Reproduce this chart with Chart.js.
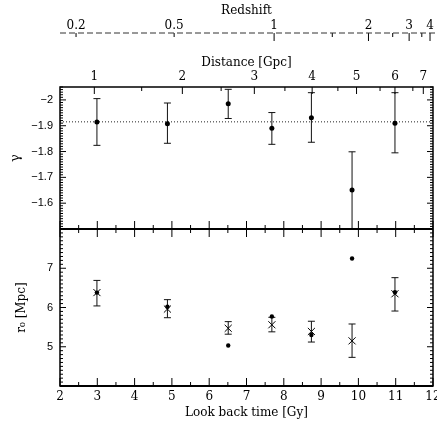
<!DOCTYPE html>
<html><head><meta charset="utf-8">
<script src="https://cdn.jsdelivr.net/npm/chart.js@4/dist/chart.umd.min.js"></script>
<style>html,body{margin:0;padding:0;background:#fff}canvas{display:block}</style>
</head><body>
<canvas id="c" width="437" height="423"></canvas>
<script>
// ---- data ----
const lookback   = [2.99, 4.88, 6.51, 7.68, 8.74, 9.83, 10.98];        // Gy
const gamma      = [-1.914, -1.908, -1.985, -1.890, -1.931, -1.651, -1.910];
const gammaLo    = [-2.005, -1.988, -2.041, -1.951, -2.028, -1.799, -2.028];
const gammaHi    = [-1.824, -1.832, -1.928, -1.828, -1.836, -1.500, -1.795];
const gammaMean  = -1.915;
const r0Cross    = [6.38, 5.96, 5.47, 5.56, 5.39, 5.15, 6.35];          // Mpc
const r0Lo       = [6.04, 5.74, 5.32, 5.38, 5.12, 4.73, 5.91];
const r0Hi       = [6.69, 6.20, 5.64, 5.75, 5.65, 5.58, 6.76];
const r0Dot      = [6.38, 6.02, 5.03, 5.77, 5.30, 7.25, 6.39];

const gammaTicks       = [-2, -1.9, -1.8, -1.7, -1.6];
const gammaTickLabels  = ['\u22122', '\u22121.9', '\u22121.8', '\u22121.7', '\u22121.6'];
const r0Ticks          = [5, 6, 7];
const r0TickLabels     = ['5', '6', '7'];
const timeTicks        = [2, 3, 4, 5, 6, 7, 8, 9, 10, 11, 12];

// distance axis: label and look-back time where the tick sits
const distLabels  = ['1', '2', '3', '4', '5', '6', '7'];
const distT       = [2.92, 5.28, 7.21, 8.76, 9.95, 10.98, 11.74];
const distMinorT  = [4.19, 6.32, 8.03, 9.45, 10.58, 11.46];
// redshift axis
const zLabels     = ['0.2', '0.5', '1', '2', '3', '4'];
const zValues     = [0.2, 0.5, 1, 2, 3, 4];
const zT          = [2.43, 5.06, 7.74, 10.27, 11.36, 11.92];
const zMinorT     = [9.30, 10.92, 11.70];

// ---- styling ----
const SERIF = "'DejaVu Serif', serif";
const SANS  = "'Liberation Sans', Arial, sans-serif";

const errorBars = {
  id: 'errorBars',
  beforeDatasetsDraw(chart) {
    const {ctx, chartArea: a, scales} = chart;
    const xs = scales.x;
    ctx.save();
    ctx.beginPath(); ctx.rect(a.left, a.top, a.right - a.left, a.bottom - a.top); ctx.clip();
    ctx.strokeStyle = '#111'; ctx.lineWidth = 1;
    const bars = (ys, lo, hi) => {
      for (let i = 0; i < lookback.length; i++) {
        const x = xs.getPixelForValue(lookback[i]);
        const y1 = ys.getPixelForValue(lo[i]), y2 = ys.getPixelForValue(hi[i]);
        ctx.beginPath();
        ctx.moveTo(x, y1); ctx.lineTo(x, y2);
        ctx.moveTo(x - 3.5, y1); ctx.lineTo(x + 3.5, y1);
        ctx.moveTo(x - 3.5, y2); ctx.lineTo(x + 3.5, y2);
        ctx.stroke();
      }
    };
    bars(scales.yG, gammaLo, gammaHi);
    bars(scales.yR, r0Lo, r0Hi);
    ctx.restore();
  }
};

const frame = {
  id: 'frame',
  afterDraw(chart) {
    const {ctx, chartArea: a, scales} = chart;
    const {x, yG, yR, xz} = scales;
    const yDiv = yG.getPixelForValue(-1.5);
    ctx.save();
    ctx.strokeStyle = '#000';
    ctx.lineWidth = 1;
    ctx.beginPath();
    for (let k = -205; k <= -150; k++) {
      const y = yG.getPixelForValue(k / 100);
      const L = (k % 10 === 0) ? 6 : 3;
      ctx.moveTo(a.left, y); ctx.lineTo(a.left + L, y);
      ctx.moveTo(a.right, y); ctx.lineTo(a.right - L, y);
    }
    for (let k = 40; k <= 80; k++) {
      const y = yR.getPixelForValue(k / 10);
      const L = (k % 10 === 0) ? 6 : 3;
      ctx.moveTo(a.left, y); ctx.lineTo(a.left + L, y);
      ctx.moveTo(a.right, y); ctx.lineTo(a.right - L, y);
    }
    for (let k = 4; k <= 24; k++) {
      const px = x.getPixelForValue(k / 2);
      const L = (k % 2 === 0) ? 8 : 4;
      ctx.moveTo(px, a.bottom); ctx.lineTo(px, a.bottom - L);
      ctx.moveTo(px, yDiv - L); ctx.lineTo(px, yDiv + L);
    }
    distT.forEach(t => { const px = x.getPixelForValue(t); ctx.moveTo(px, a.top); ctx.lineTo(px, a.top + 7); });
    distMinorT.forEach(t => { const px = x.getPixelForValue(t); ctx.moveTo(px, a.top); ctx.lineTo(px, a.top + 4); });
    const zy = xz.bottom;
    zT.forEach((t, i) => { const px = x.getPixelForValue(t); const L = zValues[i] >= 1 ? 8 : 4; ctx.moveTo(px, zy); ctx.lineTo(px, zy + L); });
    zMinorT.forEach(t => { const px = x.getPixelForValue(t); ctx.moveTo(px, zy); ctx.lineTo(px, zy + 4); });
    ctx.stroke();
    ctx.beginPath();
    ctx.setLineDash([6, 3]);
    ctx.strokeStyle = '#333';
    ctx.moveTo(a.left, zy); ctx.lineTo(chart.width, zy);
    ctx.stroke();
    ctx.setLineDash([]);
    ctx.strokeStyle = '#000';
    ctx.lineWidth = 1.5;
    ctx.strokeRect(a.left, a.top, a.right - a.left, a.bottom - a.top);
    ctx.lineWidth = 2;
    ctx.beginPath(); ctx.moveTo(a.left, yDiv); ctx.lineTo(a.right, yDiv); ctx.stroke();
    ctx.beginPath(); ctx.moveTo(a.left, a.bottom); ctx.lineTo(a.right, a.bottom); ctx.stroke();
    ctx.restore();
  }
};

const pts = (ys) => lookback.map((t, i) => ({x: t, y: ys[i]}));
const noPad = s => { s.paddingLeft = 0; s.paddingRight = 0; s.paddingTop = 0; s.paddingBottom = 0; };

new Chart(document.getElementById('c'), {
  type: 'scatter',
  data: {
    datasets: [
      { label: 'gamma', data: pts(gamma), xAxisID: 'x', yAxisID: 'yG',
        pointRadius: 2.5, pointBackgroundColor: '#000', pointBorderColor: '#000', pointBorderWidth: 0 },
      { label: 'mean', data: [{x: 2, y: gammaMean}, {x: 12, y: gammaMean}], xAxisID: 'x', yAxisID: 'yG',
        showLine: true, borderColor: '#222', borderWidth: 1, borderDash: [1, 2], pointRadius: 0 },
      { label: 'r0', data: pts(r0Cross), xAxisID: 'x', yAxisID: 'yR',
        pointStyle: 'crossRot', pointRadius: 5, pointBorderColor: '#000', pointBorderWidth: 1 },
      { label: 'r0dot', data: pts(r0Dot), xAxisID: 'x', yAxisID: 'yR',
        pointRadius: 2.2, pointBackgroundColor: '#000', pointBorderColor: '#000', pointBorderWidth: 0 }
    ]
  },
  options: {
    responsive: false,
    animation: false,
    devicePixelRatio: 1,
    layout: { padding: {left: 0, right: 4, top: 0, bottom: 0}, autoPadding: false },
    plugins: { legend: {display: false}, tooltip: {enabled: false} },
    scales: {
      x: {
        type: 'linear', position: 'bottom', min: 2, max: 12,
        afterBuildTicks: s => { s.ticks = timeTicks.map(v => ({value: v})); },
        ticks: { autoSkip: false, maxRotation: 0, padding: 3.5, color: '#000', font: {family: SERIF, size: 12} },
        grid: { display: false, drawTicks: false }, border: { display: false },
        title: { display: true, text: 'Look back time [Gy]', color: '#000', font: {family: SERIF, size: 12}, padding: {top: 0, bottom: 3} },
        afterFit: s => { s.height = 37; noPad(s); }
      },
      xd: {
        type: 'linear', position: 'top', min: 2, max: 12, weight: 1,
        afterBuildTicks: s => { s.ticks = distT.map(v => ({value: v})); },
        ticks: { autoSkip: false, maxRotation: 0, padding: 2.8, color: '#000', font: {family: SERIF, size: 12},
                 callback: (v, i) => distLabels[i] },
        grid: { display: false, drawTicks: false }, border: { display: false },
        title: { display: true, text: 'Distance [Gpc]', color: '#000', font: {family: SERIF, size: 12}, padding: {top: 23, bottom: 0} },
        afterFit: s => { s.height = 54; noPad(s); }
      },
      xz: {
        type: 'linear', position: 'top', min: 2, max: 12, weight: 2,
        afterBuildTicks: s => { s.ticks = zT.map(v => ({value: v})); },
        ticks: { autoSkip: false, maxRotation: 0, padding: 0, color: '#000', font: {family: SERIF, size: 12},
                 callback: (v, i) => zLabels[i] },
        grid: { display: false, drawTicks: false }, border: { display: false },
        title: { display: true, text: 'Redshift', color: '#000', font: {family: SERIF, size: 12}, padding: {top: 4, bottom: 0} },
        afterFit: s => { s.height = 33; noPad(s); }
      },
      yR: {
        type: 'linear', position: 'left', stack: 'panels', stackWeight: 157,
        min: 4, max: 8,
        afterBuildTicks: s => { s.ticks = r0Ticks.map(v => ({value: v})); },
        ticks: { autoSkip: false, padding: 7, color: '#000', font: {family: SANS, size: 11},
                 callback: (v, i) => r0TickLabels[i] },
        grid: { display: false, drawTicks: false }, border: { display: false },
        title: { display: true, text: 'r\u2080 [Mpc]', color: '#000', font: {family: SERIF, size: 12}, padding: {top: 15, bottom: 0} },
        afterFit: s => { s.width = 60; noPad(s); }
      },
      yG: {
        type: 'linear', position: 'left', stack: 'panels', stackWeight: 142,
        min: -2.05, max: -1.5, reverse: true,
        afterBuildTicks: s => { s.ticks = gammaTicks.map(v => ({value: v})); },
        ticks: { autoSkip: false, padding: 7, color: '#000', font: {family: SANS, size: 11},
                 callback: (v, i) => gammaTickLabels[i] },
        grid: { display: false, drawTicks: false }, border: { display: false },
        title: { display: true, text: '\u03b3', color: '#000', font: {family: SERIF, size: 13}, padding: {top: 8, bottom: 0} },
        afterFit: s => { s.width = 60; noPad(s); }
      }
    }
  },
  plugins: [errorBars, frame]
});
</script>
</body></html>
